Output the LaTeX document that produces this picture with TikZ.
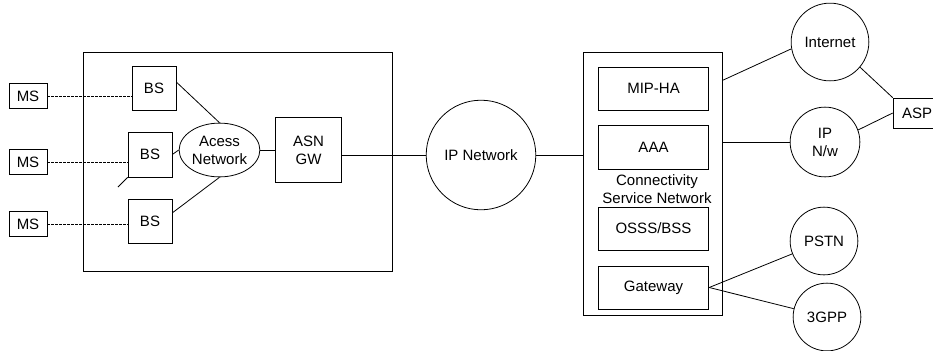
\documentclass[tikz,border=0pt]{standalone}
\usepackage{fontspec}
\setmainfont{Liberation Sans}
\usepackage{tikz}
\usetikzlibrary{positioning,shapes.geometric}

\begin{document}
\begin{tikzpicture}[
x=1bp,y=-1bp,
every node/.style={font=\fontsize{15bp}{18bp}\selectfont},
NetBox/.style={draw,line width=0.8pt,inner sep=0pt,align=center},
NetCircle/.style={draw,circle,line width=0.8pt,inner sep=0pt,align=center},
Links/.style={draw,line width=0.8pt},
RadioLinks/.style={draw,line width=0.8pt,dash pattern=on 2.5bp off 1.5bp}
]
\useasboundingbox (0,0) rectangle (933,350);

% access service network side
\node[NetBox,minimum width=310,minimum height=220] (asnbox) at (238,162) {};

\node[NetBox,minimum width=38,minimum height=25] (ms1) at (28,96) {MS};
\node[NetBox,minimum width=38,minimum height=25] (ms2) at (28,162) {MS};
\node[NetBox,minimum width=38,minimum height=25] (ms3) at (28,224) {MS};

\node[NetBox,minimum width=44,minimum height=44] (bs1) at (154,88) {BS};
\node[NetBox,minimum width=44,minimum height=45] (bs2) at (150,154.5) {BS};
\node[NetBox,minimum width=44,minimum height=44] (bs3) at (150,221) {BS};

\node[NetBox,ellipse,minimum width=81,minimum height=54] (acc) at (219.5,150) {Acess\\Network};
\node[NetBox,minimum width=67,minimum height=66] (asngw) at (308.5,150) {ASN\\GW};

\coordinate (stray) at (118,187);

\draw[RadioLinks] (ms1.east) -- (ms1.east -| bs1.west);
\draw[RadioLinks] (ms2.east) -- (ms2.east -| bs2.west);
\draw[RadioLinks] (ms3.east) -- (ms3.east -| bs3.west);

\draw[Links] (bs1.15) -- (acc.north);
\draw[Links] (bs2.east) -- (acc.west);
\draw[Links] (bs3.20) -- (acc.south);
\draw[Links] (bs2.south west) -- (stray);
\draw[Links] (acc.east) -- (asngw.west);

% core
\node[NetCircle,minimum size=110] (ipnet) at (481,155) {IP Network};
\draw[Links] (asngw.east |- ipnet.west) -- (ipnet.west);

% connectivity service network
\node[NetBox,minimum width=140,minimum height=264] (csn) at (653,184) {};
\node[NetBox,minimum width=111,minimum height=43] (mip) at (653.5,88.5) {MIP-HA};
\node[NetBox,minimum width=111,minimum height=44] (aaa) at (653.5,147) {AAA};
\node[align=center,inner sep=0pt] (csnlabel) at (657,189) {Connectivity\\Service Network};
\node[NetBox,minimum width=111,minimum height=43] (oss) at (653.5,228.5) {OSSS/BSS};
\node[NetBox,minimum width=111,minimum height=43] (gw) at (653.5,287.5) {Gateway};

\draw[Links] (ipnet.east) -- (csn.west |- ipnet.east);

% outside networks
\node[NetCircle,minimum size=78] (inet) at (830,42) {Internet};
\node[NetCircle,minimum size=70] (ipnw) at (825,142) {IP\\N/w};
\node[NetCircle,minimum size=68] (pstn) at (824,241) {PSTN};
\node[NetCircle,minimum size=68] (tgpp) at (827,317) {3GPP};
\node[NetBox,minimum width=48,minimum height=30] (asp) at (917,113) {ASP};

\coordinate (csnup) at ([yshift=-28bp]csn.north east);
\draw[Links] (csnup) -- (inet.190);
\draw[Links] (csn.east |- ipnw.west) -- (ipnw.west);
\draw[Links] (inet.-40) -- (asp.north west);
\draw[Links] (ipnw.20) -- (asp.west);
\draw[Links] (gw.east) -- (pstn);
\draw[Links] (gw.east) -- (tgpp);

\end{tikzpicture}
\end{document}
